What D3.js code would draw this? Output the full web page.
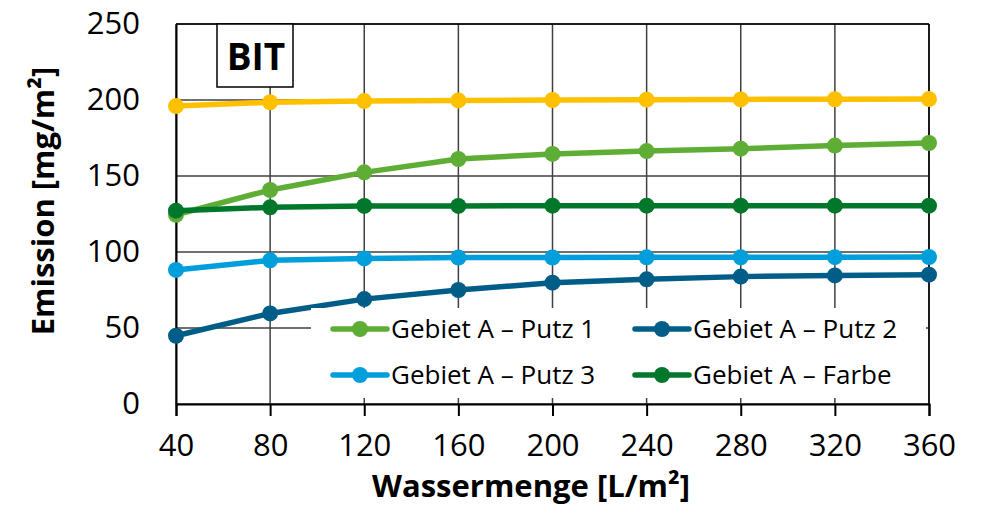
<!DOCTYPE html>
<html>
<head>
<meta charset="utf-8">
<script src="https://cdn.jsdelivr.net/npm/d3@7"></script>
<style>
  body { margin: 0; background: #fff; }
  text { font-family: "Open Sans", "Liberation Sans", sans-serif; fill: #000; }
</style>
</head>
<body>
<svg id="chart"></svg>
<script>
// data
const wassermenge = [40, 80, 120, 160, 200, 240, 280, 320, 360];
const yTicks = [0, 50, 100, 150, 200, 250];

const gesamt = [196, 198.5, 199.3, 199.7, 200, 200.2, 200.4, 200.5, 200.6];
const putz1 = [124.5, 140.8, 152.4, 161.2, 164.5, 166.4, 168, 170, 171.7];
const putz2 = [44.9, 59.6, 69, 75, 79.8, 82, 83.8, 84.6, 85.1];
const putz3 = [88.2, 94.5, 95.8, 96.3, 96.4, 96.5, 96.5, 96.6, 96.7];
const farbe = [127.2, 129.4, 130.3, 130.3, 130.5, 130.5, 130.5, 130.5, 130.5];

const seriesNames = ["Gebiet A – Putz 1", "Gebiet A – Putz 2", "Gebiet A – Putz 3", "Gebiet A – Farbe"];
const colors = ["#5EAD35", "#005D88", "#009FDB", "#00772B"];

let series = [
    {name: seriesNames[0], color: colors[0], values: putz1, legend: true},
    {name: seriesNames[1], color: colors[1], values: putz2, legend: true},
    {name: seriesNames[2], color: colors[2], values: putz3, legend: true},
    {name: seriesNames[3], color: colors[3], values: farbe, legend: true},
    {name: "Gesamt", color: "#FFC000", values: gesamt, legend: false}
];

let svg = d3.select("#chart").attr("width", 981).attr("height", 506);

let margin = {top: 24, right: 52, bottom: 102, left: 176},
    width = 981 - margin.left - margin.right,
    height = 506 - margin.top - margin.bottom,
    g = svg.append("g").attr("transform", "translate(" + margin.left + "," + margin.top + ")");

let x = d3.scaleLinear().domain([40, 360]).range([0, width]);
let y = d3.scaleLinear().domain([0, 250]).range([height, 0]);

// grid
g.append("g")
    .selectAll("line")
    .data(wassermenge)
    .join("line")
    .attr("x1", d => x(d)).attr("x2", d => x(d))
    .attr("y1", 0).attr("y2", height)
    .attr("stroke", "#404040").attr("stroke-width", 1.5);

g.append("g")
    .selectAll("line")
    .data(yTicks)
    .join("line")
    .attr("x1", 0).attr("x2", width)
    .attr("y1", d => y(d)).attr("y2", d => y(d))
    .attr("stroke", "#404040").attr("stroke-width", 1.5);

// axes
let xAxis = g.append("g")
    .attr("transform", "translate(0," + height + ")")
    .call(d3.axisBottom(x).tickValues(wassermenge).tickSize(12).tickPadding(18));
xAxis.select(".domain").attr("stroke", "#000").attr("stroke-width", 2);
xAxis.selectAll(".tick line").attr("stroke", "#000").attr("stroke-width", 2);
xAxis.selectAll("text").style("font-size", "31px").attr("fill", "#000");

let yAxis = g.append("g")
    .call(d3.axisLeft(y).tickValues(yTicks).tickSize(0).tickPadding(36));
yAxis.select(".domain").attr("stroke", "#000").attr("stroke-width", 2);
yAxis.selectAll("text").style("font-size", "31px").attr("fill", "#000");

// frame (top/right)
g.append("line").attr("x1", 0).attr("x2", width).attr("y1", 0).attr("y2", 0)
    .attr("stroke", "#000").attr("stroke-width", 1.5);
g.append("line").attr("x1", width).attr("x2", width).attr("y1", 0).attr("y2", height)
    .attr("stroke", "#000").attr("stroke-width", 1.5);

// lines
let line = d3.line()
    .x((d, i) => x(wassermenge[i]))
    .y(d => y(d));

series.forEach(s => {
    g.append("path")
        .datum(s.values)
        .attr("fill", "none")
        .attr("stroke", s.color)
        .attr("stroke-width", 5.5)
        .attr("stroke-linejoin", "round")
        .attr("d", line);
    g.append("g")
        .selectAll("circle")
        .data(s.values)
        .join("circle")
        .attr("cx", (d, i) => x(wassermenge[i]))
        .attr("cy", d => y(d))
        .attr("r", 8)
        .attr("fill", s.color);
});

// legend
let legend = svg.append("g");
legend.append("rect")
    .attr("x", 311).attr("y", 308)
    .attr("width", 615).attr("height", 90)
    .attr("fill", "#fff");

let legendItems = series.filter(s => s.legend);
legendItems.forEach((s, i) => {
    let lx = 333 + (i % 2) * 302,
        ly = 329 + Math.floor(i / 2) * 46;
    legend.append("line")
        .attr("x1", lx).attr("x2", lx + 54)
        .attr("y1", ly).attr("y2", ly)
        .attr("stroke", s.color).attr("stroke-width", 5.5)
        .attr("stroke-linecap", "round");
    legend.append("circle")
        .attr("cx", lx + 27).attr("cy", ly).attr("r", 8)
        .attr("fill", s.color);
    legend.append("text")
        .attr("x", lx + 58).attr("y", ly)
        .attr("dy", "0.35em")
        .style("font-size", "26px")
        .text(s.name);
});

// BIT label
svg.append("rect")
    .attr("x", 217).attr("y", 24)
    .attr("width", 76).attr("height", 63)
    .attr("fill", "#fff").attr("stroke", "#000").attr("stroke-width", 1.5);
svg.append("text")
    .attr("x", 256).attr("y", 57)
    .attr("dy", "0.36em")
    .attr("text-anchor", "middle")
    .style("font-size", "37px").style("font-weight", "bold")
    .text("BIT");

// axis titles
svg.append("text")
    .attr("x", 531).attr("y", 497)
    .attr("text-anchor", "middle")
    .style("font-size", "31px").style("font-weight", "bold")
    .text("Wassermenge [L/m²]");

svg.append("text")
    .attr("transform", "translate(54,201) rotate(-90)")
    .attr("text-anchor", "middle")
    .style("font-size", "31px").style("font-weight", "bold")
    .text("Emission [mg/m²]");
</script>
</body>
</html>
